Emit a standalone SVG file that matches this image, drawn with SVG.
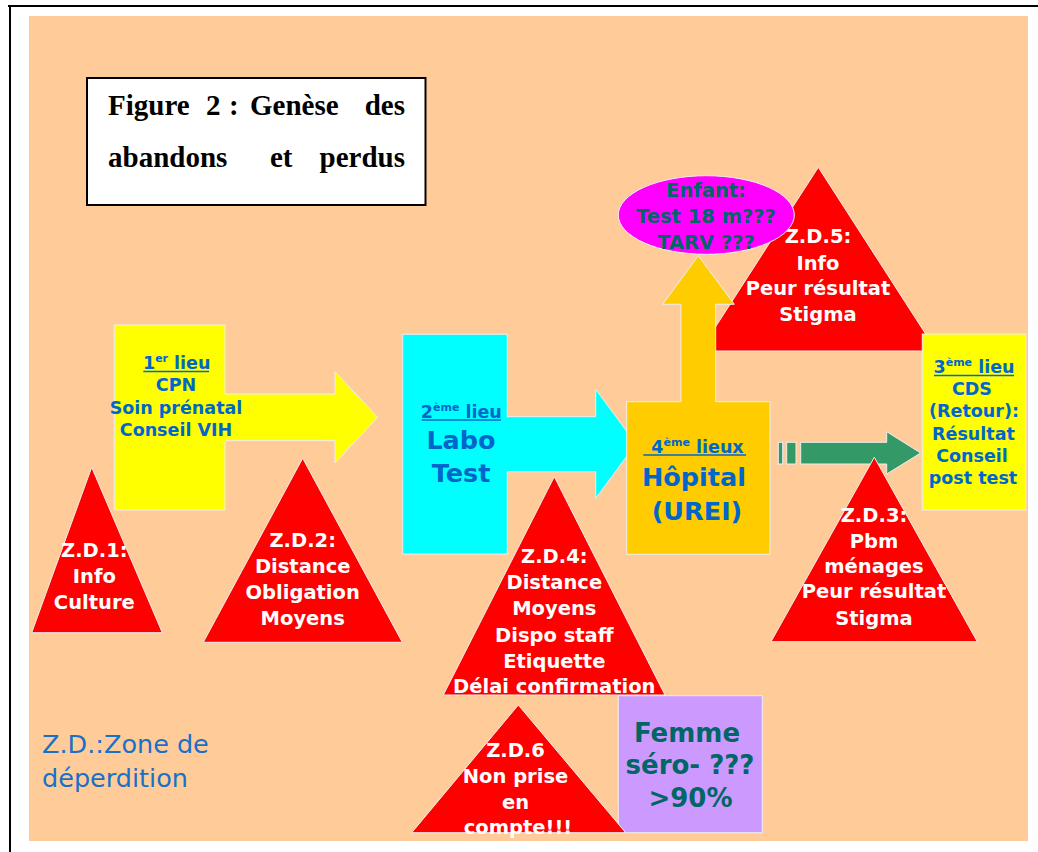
<svg xmlns="http://www.w3.org/2000/svg" width="1038" height="852" viewBox="0 0 1038 852">
<style>
.edge{stroke:#EEEEEE;stroke-width:1}
.zd{fill:#FF0000;stroke:#EEEEEE;stroke-width:1}
.t{font-family:"DejaVu Sans",Verdana,sans-serif;font-weight:bold;text-anchor:middle}
.w{fill:#FFFFFF;font-size:19.5px}
.b{fill:#0066CC;font-size:17.5px}
.bb{fill:#0066CC;font-size:25.5px}
.teal{fill:#006666}
.ul{stroke:#0066CC;stroke-width:1.6}
.sup{font-size:11px}
.title{font-family:"Liberation Serif","Times New Roman",serif;font-weight:bold;font-size:29px;fill:#000}
</style>
<rect x="0" y="0" width="1038" height="852" fill="#FFFFFF"/>
<line x1="8" y1="6" x2="1038" y2="6" stroke="#000" stroke-width="2"/>
<line x1="10" y1="5" x2="10" y2="852" stroke="#000" stroke-width="2"/>
<rect x="29" y="16" width="999" height="825" fill="#FFCC99"/>

<g id="title">
<rect x="87" y="78" width="338.5" height="127" fill="#FFFFFF" stroke="#000" stroke-width="2"/>
<text class="title" y="115"><tspan x="108">Figure</tspan><tspan x="206">2</tspan><tspan x="229">:</tspan><tspan x="250">Genèse</tspan><tspan x="405" text-anchor="end">des</tspan></text>
<text class="title" y="167"><tspan x="108">abandons</tspan><tspan x="270">et</tspan><tspan x="405" text-anchor="end">perdus</tspan></text>
</g>

<g id="zd5">
<polygon class="zd" points="818.3,167.3 936.6,351 700,351"/>
<text class="t w"><tspan x="818" y="243.3">Z.D.5:</tspan><tspan x="818" y="269.5">Info</tspan><tspan x="818" y="295">Peur résultat</tspan><tspan x="818" y="320.5">Stigma</tspan></text>
</g>

<g id="connectors">
<g id="arrow-hopital-cds">
<rect x="778.3" y="442.3" width="4.4" height="21.7" fill="#339966" class="edge"/>
<rect x="786.7" y="442.3" width="9.3" height="21.7" fill="#339966" class="edge"/>
<polygon points="800.7,442.3 886.7,442.3 886.7,431.7 920.7,453 886.7,474 886.7,464 800.7,464" fill="#339966" class="edge"/>
</g>
</g>

<g id="lieu1">
<polygon class="edge" fill="#FFFF00" points="114.3,325 225,325 225,394 335,394 335,371.7 377.7,417.3 335,463 335,440.7 225,440.7 225,510 114.3,510"/>
<text class="t b"><tspan x="176.7" y="369">1<tspan class="sup" dy="-7">er</tspan><tspan dy="7"> lieu</tspan></tspan><tspan x="176" y="390.7">CPN</tspan><tspan x="176" y="413.5">Soin prénatal</tspan><tspan x="176" y="436">Conseil VIH</tspan></text>
<line class="ul" x1="143.3" y1="371.5" x2="209" y2="371.5"/>
</g>

<g id="lieu2">
<polygon class="edge" fill="#00FFFF" points="402.7,334.3 507.3,334.3 507.3,416.7 595.7,416.7 595.7,389.3 636,443.8 595.7,498.3 595.7,471.7 507.3,471.7 507.3,554 402.7,554"/>
<text class="t b"><tspan x="461.3" y="418">2<tspan class="sup" dy="-7">ème</tspan><tspan dy="7"> lieu</tspan></tspan></text>
<line class="ul" x1="421.7" y1="420" x2="501" y2="420"/>
<text class="t bb"><tspan x="461" y="449.3">Labo</tspan><tspan x="461" y="481.7">Test</tspan></text>
</g>

<g id="lieu4">
<polygon class="edge" fill="#FFCC00" points="626.7,401.7 681,401.7 681,304.3 662.7,304.3 698.3,255.7 734.3,304.3 715.7,304.3 715.7,401.7 770,401.7 770,554.3 626.7,554.3"/>
<text class="t b"><tspan x="697.5" y="452.7">4<tspan class="sup" dy="-7">ème</tspan><tspan dy="7">  lieux</tspan></tspan></text>
<line class="ul" x1="643.3" y1="455" x2="746" y2="455"/>
<text class="t bb"><tspan x="694" y="485.7">Hôpital</tspan><tspan x="697" y="519.5">(UREI)</tspan></text>
</g>

<g id="enfant">
<ellipse cx="706.3" cy="215" rx="88" ry="39.3" fill="#FF00FF" class="edge"/>
<text class="t teal" style="font-size:19.5px"><tspan x="706" y="197.3">Enfant:</tspan><tspan x="706" y="223.3">Test 18 m???</tspan><tspan x="706" y="249.3">TARV ???</tspan></text>
</g>

<g id="lieu3">
<rect x="922.3" y="334" width="103.4" height="176" fill="#FFFF00" class="edge"/>
<text class="t b"><tspan x="974" y="373.3">3<tspan class="sup" dy="-7">ème</tspan><tspan dy="7"> lieu</tspan></tspan><tspan x="972" y="395">CDS</tspan><tspan x="974" y="417">(Retour):</tspan><tspan x="973.5" y="440">Résultat</tspan><tspan x="972" y="462">Conseil</tspan><tspan x="973" y="484">post test</tspan></text>
<line class="ul" x1="934" y1="375.5" x2="1014" y2="375.5"/>
</g>

<g id="zd3">
<polygon class="zd" points="874.3,457.3 977.3,641.7 771,641.7"/>
<text class="t w"><tspan x="874" y="521.7">Z.D.3:</tspan><tspan x="874" y="548.3">Pbm</tspan><tspan x="874" y="573.3">ménages</tspan><tspan x="874" y="598.3">Peur résultat</tspan><tspan x="874" y="625">Stigma</tspan></text>
</g>

<g id="zd1">
<polygon class="zd" points="91.7,467.3 162.3,632.7 31.7,632.7"/>
<text class="t w"><tspan x="94.3" y="557.3">Z.D.1:</tspan><tspan x="94.3" y="583.3">Info</tspan><tspan x="94.3" y="609.3">Culture</tspan></text>
</g>

<g id="zd2">
<polygon class="zd" points="302.7,458.3 402.3,642.3 203.3,642.3"/>
<text class="t w"><tspan x="302.7" y="547.3">Z.D.2:</tspan><tspan x="302.7" y="573.3">Distance</tspan><tspan x="302.7" y="599">Obligation</tspan><tspan x="302.7" y="625">Moyens</tspan></text>
</g>

<g id="zd4">
<polygon class="zd" points="554.3,476.7 665,695 443.3,695"/>
<text class="t w"><tspan x="554.3" y="563.3">Z.D.4:</tspan><tspan x="554.3" y="589.3">Distance</tspan><tspan x="554.3" y="615">Moyens</tspan><tspan x="554.3" y="641.7">Dispo staff</tspan><tspan x="554.3" y="668.3">Etiquette</tspan><tspan x="554.3" y="693.3">Délai confirmation</tspan></text>
</g>

<g id="femme">
<rect x="618.3" y="695.7" width="144" height="137" fill="#CC99FF" class="edge"/>
<text class="t teal" style="font-size:26px"><tspan x="687" y="741.7">Femme</tspan><tspan x="690" y="774">séro- ???</tspan><tspan x="690.5" y="807.3">&gt;90%</tspan></text>
</g>

<g id="zd6">
<polygon class="zd" points="518.3,705 625.7,832.7 411.7,832.7"/>
<text class="t w"><tspan x="515.5" y="757.3">Z.D.6</tspan><tspan x="515.5" y="783.3">Non prise</tspan><tspan x="515.5" y="809.3">en</tspan><tspan x="518" y="834.3">compte!!!</tspan></text>
</g>

<g id="legend">
<text style="font-family:'DejaVu Sans',Verdana,sans-serif;font-size:25.5px;fill:#1A6FC9"><tspan x="42" y="753.3">Z.D.:Zone de</tspan><tspan x="42" y="786.7">déperdition</tspan></text>
</g>
</svg>
